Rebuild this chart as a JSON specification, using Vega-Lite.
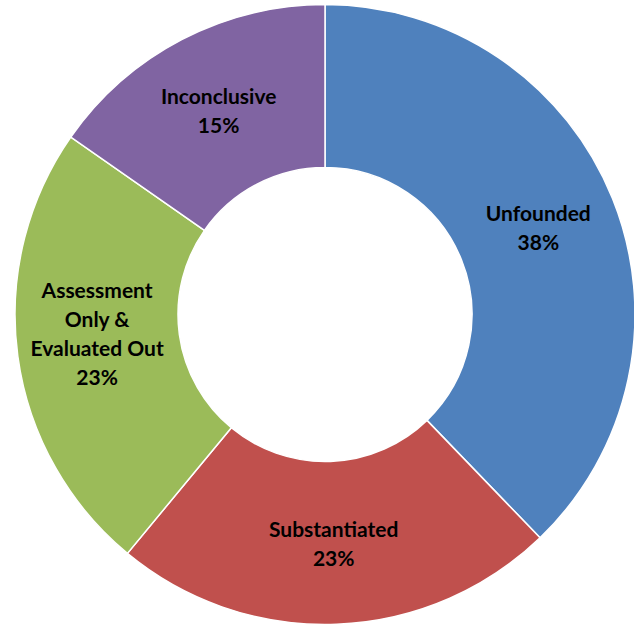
{
  "$schema": "https://vega.github.io/schema/vega-lite/v6.json",
  "autosize": {"type": "fit", "contains": "padding"},
  "width": 634,
  "height": 628,
  "padding": {"left": 16, "right": 0, "top": 1, "bottom": 0},
  "background": "white",
  "view": {"stroke": null},
  "data": {
    "values": [
      {"order": 1, "category": "Unfounded", "value": 37.8, "label2": "Unfounded|38%", "label4": ""},
      {"order": 2, "category": "Substantiated", "value": 23.2, "label2": "Substantiated|23%", "label4": ""},
      {"order": 3, "category": "Assessment Only & Evaluated Out", "value": 23.7, "label2": "", "label4": "Assessment|Only &|Evaluated Out|23%"},
      {"order": 4, "category": "Inconclusive", "value": 15.3, "label2": "Inconclusive|15%", "label4": ""}
    ]
  },
  "encoding": {
    "theta": {"field": "value", "type": "quantitative", "stack": true},
    "order": {"field": "order", "type": "quantitative"}
  },
  "layer": [
    {
      "mark": {"type": "arc", "outerRadius": 310, "innerRadius": 147, "stroke": "white", "strokeWidth": 1.5},
      "encoding": {
        "color": {
          "field": "category",
          "type": "nominal",
          "scale": {
            "domain": ["Unfounded", "Substantiated", "Assessment Only & Evaluated Out", "Inconclusive"],
            "range": ["#4F81BD", "#C0504D", "#9BBB59", "#8064A2"]
          },
          "legend": null
        }
      }
    },
    {
      "mark": {"type": "text", "radius": 230, "dy": -13, "font": "Lato", "fontWeight": "bold", "fontSize": 21, "lineHeight": 29, "lineBreak": "|", "color": "black", "align": "center", "baseline": "middle"},
      "encoding": {
        "text": {"field": "label2", "type": "nominal"}
      }
    },
    {
      "mark": {"type": "text", "radius": 230, "dy": -53, "font": "Lato", "fontWeight": "bold", "fontSize": 21, "lineHeight": 29, "lineBreak": "|", "color": "black", "align": "center", "baseline": "middle"},
      "encoding": {
        "text": {"field": "label4", "type": "nominal"}
      }
    }
  ]
}
